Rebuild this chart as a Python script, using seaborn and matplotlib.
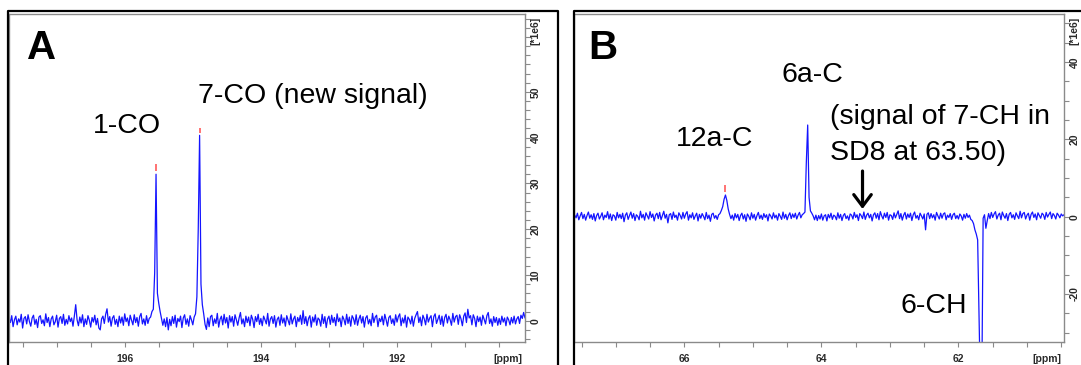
import numpy as np
import pandas as pd
import matplotlib
matplotlib.use("Agg")
import matplotlib.pyplot as plt
import seaborn as sns
from matplotlib.ticker import MultipleLocator
from matplotlib.lines import Line2D

# ---------------- data ----------------
# Panel A (carbonyl region), evenly sampled spectrum (0.02 ppm per point)
a_ppm_start = 197.70
a_ppm_step = -0.02
a_intensity = [
    0.6, -0.4, 1.1, -1.3, 0.2, 1.0, -0.9, 0.4, -0.3, 1.4, -1.6, 0.5, 0.9, -0.7, 1.3, -0.2, -1.2, 0.6, 1.2, -0.8,
    0.3, -1.5, 0.8, 1.1, -0.6, 0.2, -1.1, 1.5, -0.4, 0.7, -1.3, 0.4, 1.0, -0.9, -0.2, 1.2, -1.4, 0.5, 0.9, -0.6,
    1.4, -1.0, 0.3, -0.7, 1.1, -0.2, 0.6, -1.2, 1.0, 3.5, 0.2, -1.1, 0.8, -0.5, 1.3, -1.3, 0.4, -0.8, 1.1, 0.1,
    -1.4, 0.7, -0.3, 1.2, -0.9, 0.5, -1.6, -2.0, 0.4, 1.0, -0.6, 1.4, 2.6, -0.3, 0.9, -1.2, 0.6, 1.1, -0.8, 0.3,
    -1.3, 1.0, -0.5, 0.8, -1.0, 1.5, -0.2, 0.6, -1.1, 1.2, 0.1, -0.9, 1.3, -0.4, 0.7, -1.2, 0.9, 1.6, -0.7, 0.4,
    -1.0, 1.1, -0.6, 0.5, 0.8, 2.0, 2.5, 10.5, 32.0, 6.0, 3.8, 2.0, 0.5, -1.0, 0.4, -1.3, 0.7, -2.0, 0.3, -1.1,
    0.9, -0.6, 1.2, -1.4, 0.5, -0.2, 1.0, -1.5, 0.6, 1.3, -0.8, 0.4, -1.2, 1.1, 0.2, -0.9, 0.8, 1.5, 5.2, 20.0,
    40.5, 8.0, 3.5, 1.5, -0.8, -1.9, 0.6, -1.3, 0.9, 1.2, -1.1, 0.4, -0.6, 1.6, -1.4, 0.3, 1.0, -0.9, 1.4, -0.5,
    0.7, -1.6, 1.1, -0.3, 0.9, -1.2, 1.3, 0.2, -1.0, 0.6, 1.8, -0.7, 0.4, -1.3, 1.0, -0.4, 0.8, -1.1, 1.2, 0.3,
    -1.5, 0.9, -0.2, 1.4, -0.8, 0.5, -1.1, 1.0, 0.2, -0.7, 1.6, -1.2, 0.4, 0.9, -0.6, 1.1, -1.4, 0.3, 0.8, -1.0,
    1.3, -0.5, 0.6, -1.2, 1.1, 0.1, -0.9, 1.5, -0.7, 0.4, 1.0, -1.3, 0.7, -0.2, 1.2, -0.8, 2.2, -0.6, 0.9, -1.1,
    0.5, 1.1, -1.4, 0.8, -0.3, 1.3, -1.0, 0.6, 0.2, -1.2, 1.4, -0.6, 0.9, -1.5, 0.4, 1.0, -0.8, 1.2, -0.4, 0.7,
    -1.1, 1.5, -0.2, 0.6, -1.3, 1.0, 0.3, -0.9, 1.4, -0.6, 0.8, -1.2, 1.1, 0.5, -0.8, 1.3, -1.0, 0.4, 1.2, -0.5,
    0.9, -1.4, 0.6, 1.1, -0.7, 0.3, -1.1, 1.6, -0.4, 0.8, 1.2, -1.3, 0.5, -0.2, 1.0, -0.9, 1.4, 0.2, -1.2, 0.7,
    1.1, -0.6, 0.4, -1.0, 1.3, -0.3, 0.9, 1.5, -1.1, 0.6, -0.5, 1.2, -1.4, 0.8, 0.3, -0.7, 1.0, -1.2, 0.5, 1.3,
    2.0, -0.4, 0.8, -1.1, 1.2, 0.4, -0.9, 1.4, -0.3, 0.6, 1.1, -1.3, 0.9, 1.5, -0.6, 0.3, 1.2, -0.8, 1.0, -1.2,
    0.7, 1.4, -0.5, 1.0, 0.2, -1.0, 1.6, -0.3, 0.9, 1.2, -0.8, 1.3, 0.4, -1.1, 1.0, 1.7, -0.4, 2.5, 0.6, 1.1,
    -0.9, 1.3, 0.5, -1.3, 1.0, -0.2, 0.8, -1.0, 1.2, 0.3, -0.7, 1.1, 1.8, -0.6, 0.4, -1.2, 0.9, -0.4, 0.7, -1.0,
    0.5, -0.8, 1.0, -0.3, 0.6, -1.1, 0.8, 0.2, -0.9, 0.7, -0.5, 1.0, -0.7, 0.4, 0.9, -0.6, 1.2, 0.5, 1.8, 0.6,
]
a_pick_ppm = [195.54, 194.90]
a_pick_lo = [32.8, 40.9]
a_pick_hi = [34.2, 42.0]
a_labels = ["1-CO", "7-CO (new signal)"]
a_label_ppm = [196.47, 194.93]
a_label_y = [40.9, 47.6]
a_xticks = [196, 194, 192]
a_xticklabels = ["196", "194", "192"]
a_yticks = [0, 10, 20, 30, 40, 50]
a_yticklabels = ["0", "10", "20", "30", "40", "50"]
a_xlim = (197.70, 190.12)
a_ylim = (-4.65, 67.0)

# Panel B (aliphatic region), 0.02 ppm per point
b_ppm_start = 67.60
b_ppm_step = -0.02
b_intensity = [
    0.4, -0.3, 0.9, -0.8, 0.2, 1.1, -0.5, 0.6, -0.9, 0.3, 1.2, -0.4, 0.5, -0.7, 0.8, -1.1, 0.3, 0.9, -0.6, 0.1,
    1.0, -0.8, 0.4, -0.2, 1.3, -0.6, 0.7, -1.0, 0.5, 0.2, -0.9, 1.1, -0.3, 0.6, -0.5, 0.9, -1.3, 0.4, 1.0, -0.7,
    0.3, 1.2, -0.4, 0.8, -1.0, 0.5, 0.1, -0.8, 1.4, -0.3, 0.6, -0.9, 1.0, 0.2, -0.6, 1.3, -0.2, 0.7, -1.1, 0.4,
    0.9, -0.5, 1.1, -0.8, 0.3, 1.4, -0.4, 0.6, -1.6, 0.5, 0.8, -0.7, 1.2, -0.2, 0.4, -0.9, 1.0, 0.3, -0.6, 1.1,
    -0.4, 0.7, 1.3, -0.9, 0.5, -0.3, 1.0, -0.7, 0.2, 0.9, -1.1, 0.6, -0.4, 0.8, 0.1, -0.8, 1.1, -0.5, 0.4, -1.2,
    0.6, 0.9, -0.4, 0.3, -0.7, 0.5, 0.8, 1.6, 2.6, 4.5, 5.6, 4.2, 2.0, 0.6, -0.5, 0.4, -0.9, 0.8, -0.3, 0.6,
    -1.0, 0.3, 0.9, -0.6, 0.5, -1.2, 0.7, 0.1, -0.8, 1.0, -0.4, 0.6, -0.9, 0.3, 1.1, -0.5, 0.4, -0.7, 0.8, -0.2,
    0.5, -1.1, 0.7, 0.2, -0.6, 1.0, -0.3, 0.4, -0.9, 0.8, 0.1, -0.7, 1.2, -0.4, 0.6, -0.8, 0.3, 1.0, -0.5, 0.7,
    -0.2, 0.9, -0.6, 0.4, 1.1, -0.3, 0.5, 0.8, 1.2, 14.0, 23.7, 5.0, 1.5, 0.9, 0.2, -0.8, 0.4, -1.0, 0.3, -0.6,
    0.7, -0.9, 0.2, 0.5, -1.1, 0.6, -0.3, 0.9, -0.7, 0.4, 0.1, -0.8, 1.0, -0.4, 0.6, -1.0, 0.3, 0.8, -0.5, 0.2,
    -0.9, 0.7, 0.4, -0.6, 1.1, -0.2, 0.5, -1.0, 0.8, 0.3, -0.5, 1.2, -0.7, 0.4, 0.9, -0.3, 0.6, -1.1, 0.5, 1.0,
    -0.4, 0.8, -0.8, 1.3, 0.2, -0.6, 0.9, -0.2, 1.1, -0.9, 0.5, 0.3, -0.7, 1.0, -0.3, 0.6, 1.5, -0.5, 0.8, -0.9,
    0.4, 1.1, -0.6, 0.7, -0.2, 0.9, -1.0, 0.5, 1.2, -0.4, 0.3, -0.8, 0.9, 0.2, -0.6, 0.7, -3.4, 0.6, 1.0, -0.5,
    0.8, -0.3, 0.5, -0.9, 1.1, 0.2, -0.6, 0.9, -0.4, 0.7, 1.0, -0.8, 0.4, -0.2, 0.8, -0.7, 0.5, 0.9, -0.5, 0.3,
    -0.6, 0.7, 0.2, -0.9, 0.6, -0.4, 0.8, -0.2, 0.4, -0.7, -1.0, -1.8, -3.4, -4.5, -6.0, -25.0, -45.0, -45.0, -0.4, 0.5,
    -3.0, -1.0, 0.8, -0.5, 1.1, -0.2, 0.7, 1.3, -0.6, 0.4, 0.9, -0.8, 1.2, 0.3, -0.4, 0.8, -1.0, 0.6, 1.1, -0.3,
    0.5, -0.7, 1.0, 0.2, -0.5, 1.4, -0.3, 0.8, 1.1, -0.6, 0.4, 0.9, -0.9, 0.6, 1.2, -0.2, 0.7, -0.8, 1.0, 0.3,
    -0.4, 0.9, 0.5, -0.7, 1.1, -0.1, 0.6, 1.2, -0.5, 0.8, 0.3, -0.6, 0.9, 0.4, -0.3, 0.7, 0.2, 0.5,
]
b_pick_ppm = [65.40]
b_pick_lo = [6.5]
b_pick_hi = [8.2]
b_labels = ["12a-C", "6a-C", "(signal of 7-CH in", "SD8 at 63.50)", "6-CH"]
b_label_ppm = [66.12, 64.58, 63.88, 63.88, 62.85]
b_label_y = [18.3, 34.7, 23.9, 14.7, -25.0]
b_arrow_ppm = 63.40
b_arrow_from = 11.8
b_arrow_to = 2.0
b_xticks = [66, 64, 62]
b_xticklabels = ["66", "64", "62"]
b_yticks = [40, 20, 0, -20]
b_yticklabels = ["40", "20", "0", "-20"]
b_xlim = (67.61, 60.46)
b_ylim = (-32.4, 52.4)

panel_letters = ["A", "B"]

# ---------------- style ----------------
sns.set_theme(style="white")
plt.rcParams["font.family"] = ["Liberation Sans", "DejaVu Sans"]

W, H = 1081, 365
fig = plt.figure(figsize=(W / 100, H / 100), dpi=100)
fig.patch.set_facecolor("white")

def px_rect(left, top, right, bottom):
    return [left / W, 1 - bottom / H, (right - left) / W, (bottom - top) / H]

axA = fig.add_axes(px_rect(9, 14, 525, 342))
axB = fig.add_axes(px_rect(574, 14, 1064, 342))

LINE_COLOR = "#1414ff"
SPINE_COLOR = "#8a8a8a"
TICK_LABEL_COLOR = "#2a2a2a"
TICK_FS = 7.5

def spectrum_frame(start, step, values):
    ppm = start + step * np.arange(len(values))
    return pd.DataFrame({"ppm": ppm, "intensity": values})

def style_axes(ax, xlim, ylim, xticks, xticklabels, yticks, yticklabels, yminor):
    ax.set_xlim(*xlim)
    ax.set_ylim(*ylim)
    ax.set_facecolor("white")
    for s in ax.spines.values():
        s.set_visible(True)
        s.set_color(SPINE_COLOR)
        s.set_linewidth(1.0)
    ax.set_xlabel("")
    ax.set_ylabel("")
    ax.yaxis.tick_right()
    ax.xaxis.set_minor_locator(MultipleLocator(0.5))
    ax.yaxis.set_minor_locator(MultipleLocator(yminor))
    ax.set_xticks(xticks)
    ax.set_xticklabels(xticklabels, fontsize=TICK_FS, fontweight="bold", color=TICK_LABEL_COLOR)
    ax.set_yticks(yticks)
    ax.set_yticklabels(yticklabels, fontsize=TICK_FS, fontweight="bold", color=TICK_LABEL_COLOR,
                       rotation=90, va="center", ha="left")
    ax.tick_params(axis="both", which="both", direction="out", length=3.6, width=0.8,
                   color=SPINE_COLOR, top=False, left=False, right=True, bottom=True)
    ax.tick_params(axis="x", which="both", pad=5)
    ax.tick_params(axis="y", which="both", pad=0.6)
    ax.grid(False)
    ax.annotate("[ppm]", xy=(0.966, 0), xycoords="axes fraction", xytext=(0, -17),
                textcoords="offset pixels", ha="center", va="center", fontsize=TICK_FS,
                fontweight="bold", color=TICK_LABEL_COLOR)
    ax.annotate("[*1e6]", xy=(1, 1), xycoords="axes fraction", xytext=(10, -17),
                textcoords="offset pixels", ha="center", va="center", rotation=90,
                fontsize=TICK_FS, fontweight="bold", color=TICK_LABEL_COLOR)

# ---- Panel A ----
dfA = spectrum_frame(a_ppm_start, a_ppm_step, a_intensity)
sns.lineplot(data=dfA, x="ppm", y="intensity", ax=axA, color=LINE_COLOR, linewidth=0.9,
             sort=False, estimator=None)
axA.vlines(a_pick_ppm, a_pick_lo, a_pick_hi, color="#ff5a5a", linewidth=1.2)
style_axes(axA, a_xlim, a_ylim, a_xticks, a_xticklabels, a_yticks, a_yticklabels, 2)
for lab, x, y in zip(a_labels, a_label_ppm, a_label_y):
    axA.text(x, y, lab, fontsize=20.5, ha="left", va="baseline", color="black")
axA.text(197.43, 57.1, panel_letters[0], fontsize=29, fontweight="bold", ha="left",
         va="baseline", color="black")

# ---- Panel B ----
dfB = spectrum_frame(b_ppm_start, b_ppm_step, b_intensity)
sns.lineplot(data=dfB, x="ppm", y="intensity", ax=axB, color=LINE_COLOR, linewidth=0.9,
             sort=False, estimator=None)
axB.vlines(b_pick_ppm, b_pick_lo, b_pick_hi, color="#ff5a5a", linewidth=1.2)
style_axes(axB, b_xlim, b_ylim, b_xticks, b_xticklabels, b_yticks, b_yticklabels, 5)
for lab, x, y in zip(b_labels, b_label_ppm, b_label_y):
    axB.text(x, y, lab, fontsize=20.5, ha="left", va="baseline", color="black")
axB.text(67.40, 40.7, panel_letters[1], fontsize=29, fontweight="bold", ha="left",
         va="baseline", color="black")
axB.annotate("", xy=(b_arrow_ppm, b_arrow_to), xytext=(b_arrow_ppm, b_arrow_from),
             arrowprops=dict(arrowstyle="->,head_length=0.6,head_width=0.45", lw=2.3,
                             color="black", mutation_scale=14, shrinkA=0, shrinkB=0))

# ---- outer black frames ----
def fig_line(xs, ys):
    fig.add_artist(Line2D([x / W for x in xs], [1 - y / H for y in ys],
                          transform=fig.transFigure, color="black", linewidth=1.6,
                          solid_capstyle="projecting"))

fig_line([8, 8, 558, 558], [366, 10.5, 10.5, 366])
fig_line([573.5, 573.5, 1082], [366, 10.5, 10.5])

fig.savefig("out.png", dpi=100, facecolor="white")
